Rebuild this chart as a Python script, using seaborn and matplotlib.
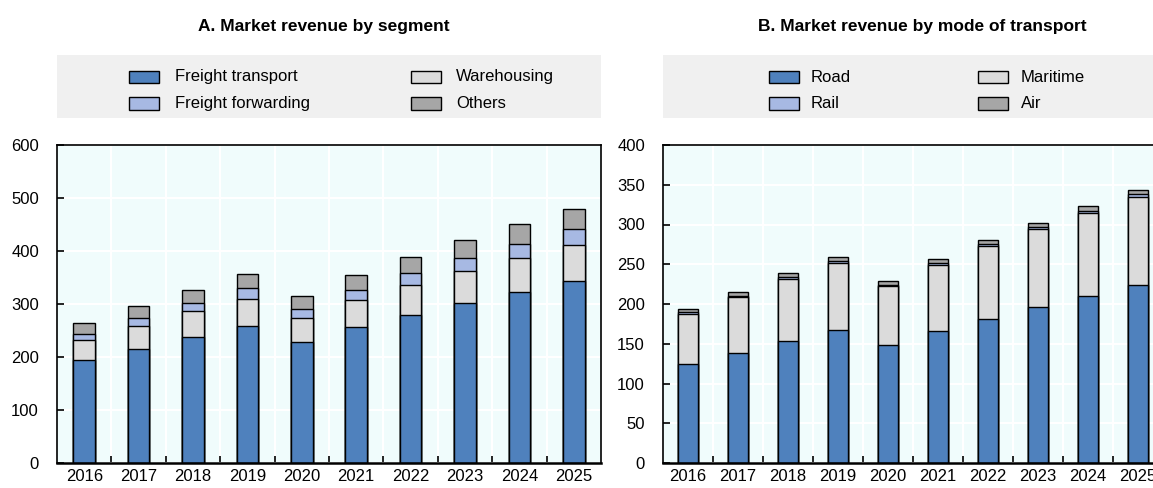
import matplotlib
matplotlib.use('Agg')
import matplotlib.pyplot as plt
from matplotlib.patches import Rectangle
import seaborn as sns
import numpy as np

sns.set_theme(style='white')
plt.rcParams['font.family'] = ['Liberation Sans', 'DejaVu Sans']
plt.rcParams['font.size'] = 12
plt.rcParams['text.color'] = 'black'
plt.rcParams['xtick.color'] = 'black'
plt.rcParams['ytick.color'] = 'black'
plt.rcParams['xtick.labelcolor'] = 'black'
plt.rcParams['ytick.labelcolor'] = 'black'

# データ
years = ['2016', '2017', '2018', '2019', '2020', '2021', '2022', '2023', '2024', '2025']

# A. セグメント別
seg_labels = ['Freight transport', 'Warehousing', 'Freight forwarding', 'Others']
freight_transport = [194, 215, 238, 258, 228, 256, 280, 302, 322, 343]
warehousing = [39, 44, 48, 52, 46, 51, 56, 60, 65, 68]
freight_forwarding = [11, 14, 16, 20, 17, 20, 22, 25, 26, 30]
others = [21, 24, 25, 27, 25, 28, 31, 34, 38, 39]

# B. 輸送モード別
mode_labels = ['Road', 'Maritime', 'Rail', 'Air']
road = [124, 138.5, 154, 167.5, 148.5, 166, 181.5, 196.5, 210.5, 224]
maritime = [64, 70.5, 77.5, 84, 74.5, 83, 91, 97.5, 103.5, 110]
rail = [1.5, 1.5, 2, 2, 1.5, 2, 2.5, 2.5, 3, 4]
air = [4.5, 5, 5, 5.5, 4.5, 5.5, 6, 6, 6, 6]

colors = ['#4F81BD', '#DBDBDB', '#A7B9E3', '#A6A6A6']
bg = '#F0FCFC'
W, H = 1153, 488


def fx(px):
    return px / W


def fy(py):
    return 1 - py / H


def stacked(ax, series, ymax, step):
    # 上の層から累積値で描画して積み上げを表現
    cum = np.cumsum(np.array(series, dtype=float), axis=0)
    for i in range(len(series) - 1, -1, -1):
        sns.barplot(x=years, y=cum[i], color=colors[i], saturation=1,
                    width=0.4, edgecolor='black', linewidth=1,
                    errorbar=None, ax=ax)
    ax.set_facecolor(bg)
    ax.set_xlim(-0.5, len(years) - 0.5)
    ax.set_ylim(0, ymax)
    ax.set_yticks(np.arange(0, ymax + 1, step))
    ax.set_xticks(range(len(years)))
    ax.set_xticklabels(years)
    ax.set_xticks(np.arange(0.5, len(years) - 0.5, 1), minor=True)
    ax.set_xlabel('')
    ax.set_ylabel('')
    ax.tick_params(axis='x', which='major', length=0, pad=4, labelsize=12,
                   labelcolor='black')
    ax.tick_params(axis='x', which='minor', direction='in', length=5,
                   width=1.2, color='black', bottom=True)
    ax.tick_params(axis='y', direction='in', length=5, width=1.2,
                   pad=13, labelsize=12, left=True, color='black',
                   labelcolor='black')
    ax.set_axisbelow(True)
    ax.grid(False)
    ax.yaxis.grid(True, color='white', linewidth=1.5)
    ax.xaxis.grid(True, which='minor', color='white', linewidth=1.5)
    for s in ax.spines.values():
        s.set_visible(True)
        s.set_color('black')
        s.set_linewidth(1.2)
    ax.spines['bottom'].set_linewidth(1.8)


def legend_box(fig, x0, x1, entries):
    fig.patches.append(Rectangle((fx(x0), fy(118)), fx(x1 - x0), (118 - 55) / H,
                                 transform=fig.transFigure, facecolor='#F0F0F0',
                                 edgecolor='none', zorder=0))
    for (px, tx, py, label, c) in entries:
        fig.patches.append(Rectangle((fx(px), fy(py + 6)), fx(30), 12 / H,
                                     transform=fig.transFigure, facecolor=c,
                                     edgecolor='black', linewidth=1))
        fig.text(fx(tx), fy(py), label, ha='left', va='center', fontsize=12,
                 color='black')


fig = plt.figure(figsize=(W / 100, H / 100), dpi=100)
ax1 = fig.add_axes([fx(57), fy(463), fx(544), (463 - 145) / H])
ax2 = fig.add_axes([fx(663), fy(463), fx(500), (463 - 145) / H])

stacked(ax1, [freight_transport, warehousing, freight_forwarding, others], 600, 100)
stacked(ax2, [road, maritime, rail, air], 400, 50)

fig.text(fx(324), fy(27), 'A. Market revenue by segment', ha='center', va='center',
         fontsize=12.5, fontweight='bold', color='black')
fig.text(fx(922), fy(27), 'B. Market revenue by mode of transport', ha='center',
         va='center', fontsize=12.5, fontweight='bold', color='black')

legend_box(fig, 57, 601, [
    (129, 175, 77, seg_labels[0], colors[0]),
    (129, 175, 103.5, seg_labels[2], colors[2]),
    (411, 456, 77, seg_labels[1], colors[1]),
    (411, 456, 103.5, seg_labels[3], colors[3]),
])
legend_box(fig, 663, 1163, [
    (769, 811, 77, mode_labels[0], colors[0]),
    (769, 811, 103.5, mode_labels[2], colors[2]),
    (978, 1021, 77, mode_labels[1], colors[1]),
    (978, 1021, 103.5, mode_labels[3], colors[3]),
])

fig.savefig('out.png', dpi=100, facecolor='white')
plt.close(fig)
